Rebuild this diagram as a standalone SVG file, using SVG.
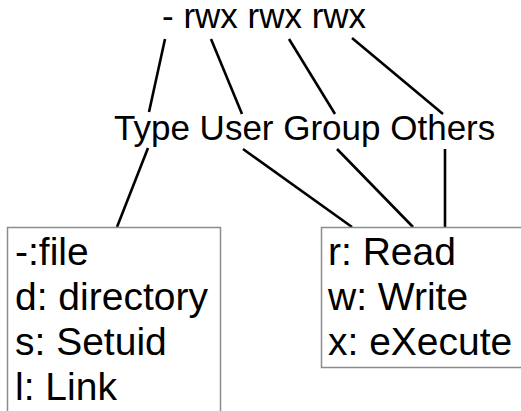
<svg xmlns="http://www.w3.org/2000/svg" width="521" height="411" viewBox="0 0 521 411">
<style>
  .lbl { font-family: "Liberation Sans", Arial, sans-serif; font-size: 35px; fill: #000; }
  .box { fill: #fff; stroke: #8c8c8c; stroke-width: 1.5; }
  .btxt { font-family: "Liberation Sans", Arial, sans-serif; font-size: 39px; fill: #000; }
  .conn line { stroke: #000; stroke-width: 2.6; stroke-linecap: butt; }
</style>
<rect width="521" height="411" fill="#fff"/>
<g id="connectors" class="conn">
  <line x1="165" y1="39" x2="149" y2="112"/>
  <line x1="211" y1="39" x2="242" y2="114"/>
  <line x1="289" y1="39" x2="335" y2="114"/>
  <line x1="352" y1="38" x2="443" y2="114"/>
  <line x1="148" y1="148" x2="117" y2="227"/>
  <line x1="243" y1="149" x2="352" y2="227"/>
  <line x1="337" y1="149" x2="413" y2="227"/>
  <line x1="445" y1="149" x2="445" y2="227"/>
</g>
<g id="perm">
  <text class="lbl" x="162" y="28">- rwx rwx rwx</text>
</g>
<g id="categories">
  <text class="lbl" x="114" y="140">Type User Group Others</text>
</g>
<g id="typeBox">
  <rect class="box" x="7.5" y="227.5" width="213" height="200"/>
  <text class="btxt" x="15" y="265">-:file</text>
  <text class="btxt" x="15" y="310">d: directory</text>
  <text class="btxt" x="15" y="355">s: Setuid</text>
  <text class="btxt" x="15" y="400">l: Link</text>
</g>
<g id="permBox">
  <rect class="box" x="321.5" y="227.5" width="220" height="140"/>
  <text class="btxt" x="328" y="265">r: Read</text>
  <text class="btxt" x="328" y="310">w: Write</text>
  <text class="btxt" x="328" y="355">x: eXecute</text>
</g>
</svg>
